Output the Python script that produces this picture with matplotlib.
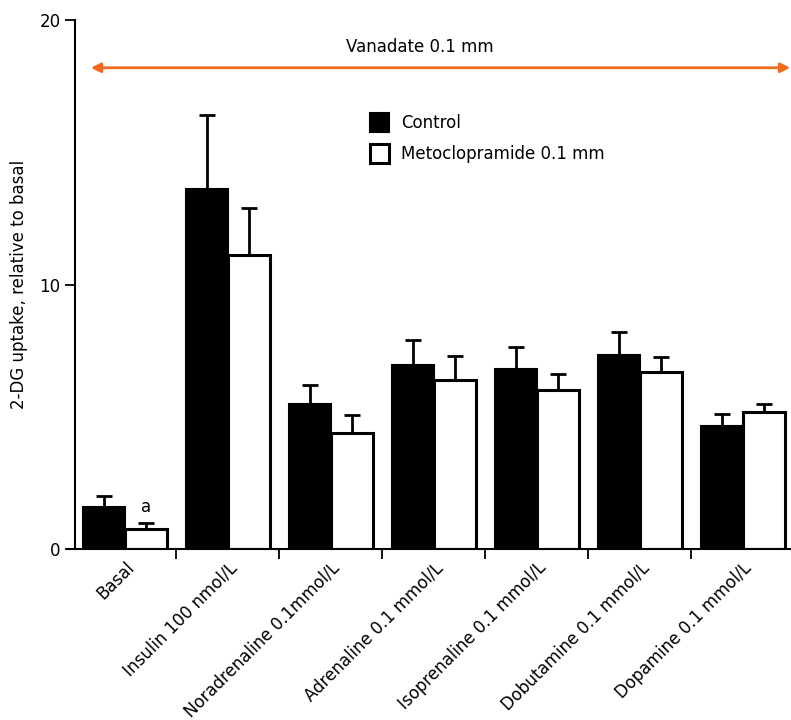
import numpy as np
import matplotlib
matplotlib.use('Agg')
import matplotlib.pyplot as plt

categorias = ['Basal', 'Insulin 100 nmol/L', 'Noradrenaline 0.1mmol/L', 'Adrenaline 0.1 mmol/L',
              'Isoprenaline 0.1 mmol/L', 'Dobutamine 0.1 mmol/L', 'Dopamine 0.1 mmol/L']
controle = [1.6, 13.6, 5.5, 6.95, 6.8, 7.35, 4.65]
controle_err = [0.4, 2.8, 0.7, 0.95, 0.85, 0.85, 0.45]
meto = [0.75, 11.1, 4.4, 6.4, 6.0, 6.7, 5.2]
meto_err = [0.25, 1.8, 0.65, 0.9, 0.6, 0.55, 0.3]

plt.rcParams['font.family'] = 'DejaVu Sans'
plt.rcParams['font.size'] = 12

fig = plt.figure(figsize=(7.91, 7.2), dpi=100)
ax = fig.add_axes([0.085, 0.2375, 0.914, 0.7345])

x = np.arange(len(categorias))
largura = 0.41
ax.bar(x - largura/2, controle, largura, color='black', edgecolor='black', linewidth=1.5,
       label='Control', zorder=2)
ax.bar(x + largura/2, meto, largura, color='white', edgecolor='black', linewidth=2.2,
       label='Metoclopramide 0.1 mm', zorder=2)
ax.errorbar(x - largura/2, controle, yerr=[np.zeros(len(x)), controle_err], fmt='none',
            ecolor='black', elinewidth=2, capsize=6, capthick=2, zorder=1)
ax.errorbar(x + largura/2, meto, yerr=[np.zeros(len(x)), meto_err], fmt='none',
            ecolor='black', elinewidth=2, capsize=6, capthick=2, zorder=1)

# letra de significância
ax.text(0 + largura/2, meto[0] + meto_err[0] + 0.25, 'a', ha='center', va='bottom', fontsize=12)

# seta do vanadato
ax.annotate('', xy=(-0.33, 18.2), xytext=(6.46, 18.2),
            arrowprops=dict(arrowstyle='<|-|>', color='#f26b1d', lw=2, mutation_scale=14,
                            shrinkA=0, shrinkB=0))
ax.text(2.86, 19.0, 'Vanadate 0.1 mm', ha='center', va='center', fontsize=12)

ax.set_xlim(-0.56, 6.46)
ax.set_ylim(0, 20)
ax.set_yticks([0, 10, 20])
ax.set_xticks(x[:-1] + 0.5, minor=False)
ax.set_xticklabels([])
ax.set_xticks(x, minor=True)
ax.set_xticklabels(categorias, minor=True, rotation=45, ha='right', rotation_mode='anchor')
ax.tick_params(axis='x', which='minor', length=0, pad=7)
ax.tick_params(axis='x', which='major', length=7, width=1.3)
ax.tick_params(axis='y', length=7, width=1.3)
ax.spines['top'].set_visible(False)
ax.spines['right'].set_visible(False)
ax.spines['left'].set_position(('data', -0.485))
ax.spines['left'].set_linewidth(1.5)
ax.spines['bottom'].set_linewidth(1.5)
ax.set_ylabel('2-DG uptake, relative to basal', fontsize=12, labelpad=8)

ax.legend(loc='upper left', bbox_to_anchor=(0.449, 0.864), bbox_transform=fig.transFigure,
          frameon=False, handlelength=1.15, handleheight=1.35, handletextpad=0.7, labelspacing=0.72)

plt.savefig('out.png', dpi=100)
